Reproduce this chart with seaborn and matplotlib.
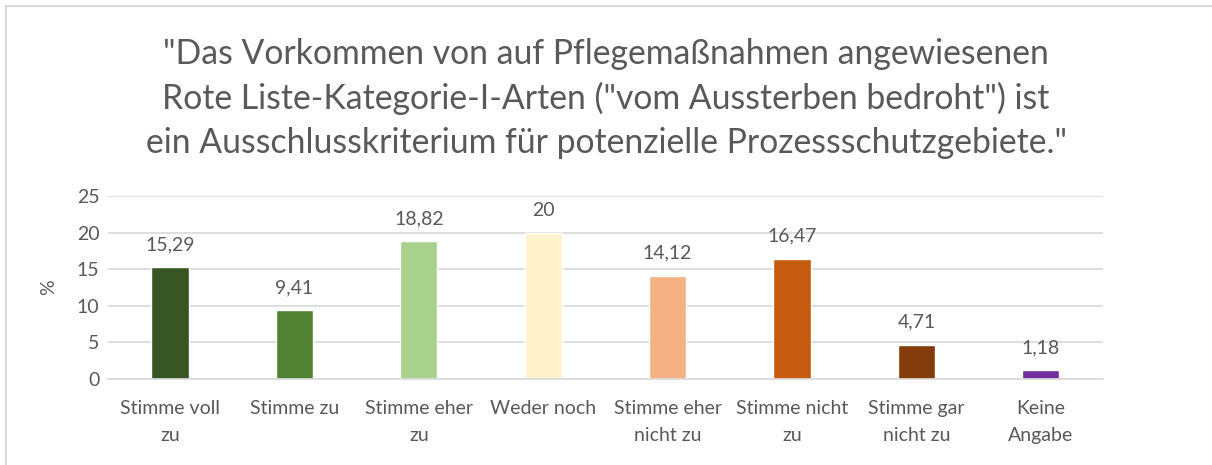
import matplotlib
matplotlib.use("Agg")
import matplotlib.pyplot as plt
import seaborn as sns
import pandas as pd
from matplotlib.lines import Line2D

categories = ["Stimme voll\nzu", "Stimme zu", "Stimme eher\nzu", "Weder noch",
              "Stimme eher\nnicht zu", "Stimme nicht\nzu", "Stimme gar\nnicht zu",
              "Keine\nAngabe"]
values = [15.29, 9.41, 18.82, 20, 14.12, 16.47, 4.71, 1.18]
colors = ["#375623", "#548235", "#A9D18E", "#FFF2CC",
          "#F4B183", "#C55A11", "#843C0C", "#7030A0"]
title = ('"Das Vorkommen von auf Pflegemaßnahmen angewiesenen\n'
         'Rote Liste-Kategorie-I-Arten ("vom Aussterben bedroht") ist\n'
         'ein Ausschlusskriterium für potenzielle Prozessschutzgebiete."')

sns.set_theme(style="white")
plt.rcParams["font.family"] = ["Lato", "DejaVu Sans"]
txt = "#595959"

df = pd.DataFrame({"cat": categories, "val": values})

fig = plt.figure(figsize=(12.12, 4.65), dpi=100)
ax = fig.add_axes([0.089, 0.185, 0.821, 0.393])
sns.barplot(data=df, x="cat", y="val", hue="cat", palette=colors,
            legend=False, width=0.3, ax=ax, saturation=1)

ax.set_ylim(0, 25)
ax.set_yticks([0, 5, 10, 15, 20, 25])
ax.yaxis.grid(True, color="#D9D9D9", linewidth=1.2)
ax.set_axisbelow(True)
for s in ["top", "right", "left"]:
    ax.spines[s].set_visible(False)
ax.spines["bottom"].set_color("#D9D9D9")
ax.spines["bottom"].set_linewidth(1.2)
ax.tick_params(axis="both", length=0, labelsize=14, colors=txt, pad=6)
ax.tick_params(axis="x", pad=15)
for t in ax.get_xticklabels():
    t.set_linespacing(1.7)
ax.set_xlabel("")
ax.set_ylabel("%", fontsize=14, color=txt, labelpad=14)

for i, v in enumerate(values):
    lab = f"{v:g}".replace(".", ",")
    ax.annotate(lab, (i, v), xytext=(0, 10), textcoords="offset points",
                ha="center", va="bottom", fontsize=14, color=txt)

fig.text(0.5, 0.918, title, ha="center", va="top", fontsize=24.3,
         color=txt, linespacing=1.45)

# chart frame (left and top edges visible)
fig.add_artist(Line2D([6 / 1212, 6 / 1212], [0, 1 - 6 / 465],
                      transform=fig.transFigure, color="#D9D9D9", lw=1.5))
fig.add_artist(Line2D([6 / 1212, 1], [1 - 6 / 465, 1 - 6 / 465],
                      transform=fig.transFigure, color="#D9D9D9", lw=1.5))

fig.savefig("out.png", dpi=100, facecolor="white")
